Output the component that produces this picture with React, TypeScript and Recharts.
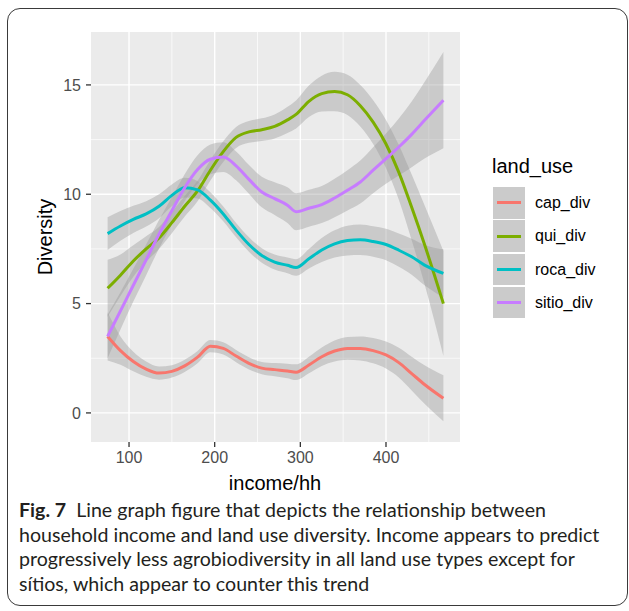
import React from 'react';
import {
  ComposedChart,
  Line,
  Area,
  XAxis,
  YAxis,
  CartesianGrid,
} from 'recharts';

// income/hh sample points
const INCOME = [75, 90, 105, 120, 135, 150, 165, 180, 195, 210, 225, 240, 255, 270, 285, 295, 310, 325, 340, 355, 370, 385, 400, 415, 430, 445, 467];

const CAP = [3.5, 2.85, 2.35, 2.0, 1.82, 1.9, 2.15, 2.55, 3.05, 2.95, 2.6, 2.27, 2.05, 1.98, 1.92, 1.86, 2.19, 2.57, 2.83, 2.95, 2.95, 2.85, 2.65, 2.3, 1.8, 1.3, 0.67];
const CAP_SE = [1.1, 0.65, 0.45, 0.35, 0.3, 0.28, 0.28, 0.28, 0.28, 0.28, 0.28, 0.28, 0.28, 0.3, 0.33, 0.36, 0.38, 0.42, 0.48, 0.52, 0.55, 0.58, 0.62, 0.68, 0.77, 0.88, 1.05];

const QUI = [5.7, 6.3, 6.95, 7.5, 8.0, 8.7, 9.45, 10.15, 11.1, 11.95, 12.6, 12.85, 12.95, 13.1, 13.4, 13.65, 14.25, 14.6, 14.7, 14.55, 14.05, 13.3, 12.3, 11.0, 9.4, 7.7, 5.0];
const QUI_SE = [1.3, 0.95, 0.72, 0.58, 0.5, 0.48, 0.47, 0.47, 0.47, 0.47, 0.48, 0.5, 0.52, 0.55, 0.6, 0.64, 0.72, 0.82, 0.9, 0.92, 0.95, 1.0, 1.1, 1.25, 1.5, 1.8, 2.4];

const ROCA = [8.2, 8.55, 8.85, 9.1, 9.45, 9.95, 10.3, 10.2, 9.73, 9.1, 8.36, 7.7, 7.2, 6.9, 6.75, 6.65, 7.05, 7.45, 7.73, 7.88, 7.92, 7.84, 7.7, 7.44, 7.14, 6.76, 6.38];
const ROCA_SE = [0.75, 0.68, 0.62, 0.58, 0.55, 0.5, 0.45, 0.4, 0.36, 0.34, 0.33, 0.33, 0.33, 0.34, 0.36, 0.38, 0.45, 0.55, 0.62, 0.68, 0.7, 0.7, 0.72, 0.76, 0.82, 0.92, 1.1];

const SITIO = [3.5, 4.67, 5.84, 7.0, 8.17, 9.25, 10.3, 11.13, 11.6, 11.7, 11.3, 10.68, 10.1, 9.8, 9.5, 9.2, 9.36, 9.53, 9.83, 10.18, 10.56, 11.1, 11.63, 12.16, 12.74, 13.38, 14.3];
const SITIO_SE = [1.0, 0.85, 0.75, 0.7, 0.65, 0.62, 0.62, 0.65, 0.68, 0.68, 0.66, 0.66, 0.7, 0.75, 0.82, 0.85, 0.85, 0.85, 0.88, 0.92, 0.98, 1.05, 1.15, 1.3, 1.5, 1.75, 2.2];

const X_TICKS = [100, 200, 300, 400];
const X_MINOR = [150, 250, 350, 450];
const Y_TICKS = [0, 5, 10, 15];
const Y_MINOR = [2.5, 7.5, 12.5];

const SERIES = [
  { key: 'cap_div', values: CAP, se: CAP_SE, color: '#F8766D' },
  { key: 'qui_div', values: QUI, se: QUI_SE, color: '#7CAE00' },
  { key: 'roca_div', values: ROCA, se: ROCA_SE, color: '#00BFC4' },
  { key: 'sitio_div', values: SITIO, se: SITIO_SE, color: '#C77CFF' },
];

const data = INCOME.map((x, i) => {
  const row: Record<string, number | number[]> = { income: x };
  SERIES.forEach((s) => {
    row[s.key] = s.values[i];
    row[s.key + '_band'] = [s.values[i] - s.se[i], s.values[i] + s.se[i]];
  });
  return row;
});

const CAPTION = [
  'Line graph figure that depicts the relationship between',
  'household income and land use diversity. Income appears to predict',
  'progressively less agrobiodiversity in all land use types except for',
  's\u00edtios, which appear to counter this trend',
];

const AXIS_FONT = '"Liberation Sans", Arial, sans-serif';

export default function App() {
  return (
    <div
      style={{
        position: 'absolute',
        left: 0,
        top: 0,
        width: 629,
        height: 611,
        background: '#fff',
        overflow: 'hidden',
        fontFamily: AXIS_FONT,
      }}
    >
      <div
        style={{
          position: 'absolute',
          left: 7,
          top: 8,
          width: 621,
          height: 598,
          boxSizing: 'border-box',
          border: '1.4px solid #3a3a3a',
          borderRadius: 13,
        }}
      />
      <div style={{ position: 'absolute', left: 0, top: 0 }}>
        <ComposedChart
          width={629}
          height={480}
          data={data}
          margin={{ top: 32, right: 169, bottom: 8, left: 41 }}
        >
          <CartesianGrid
            fill="#EBEBEB"
            stroke="#FFFFFF"
            strokeWidth={0.7}
            verticalValues={X_MINOR}
            horizontalValues={Y_MINOR}
          />
          <CartesianGrid
            stroke="#FFFFFF"
            strokeWidth={1.4}
            verticalValues={X_TICKS}
            horizontalValues={Y_TICKS}
          />
          <XAxis
            dataKey="income"
            type="number"
            domain={[55.6, 486.4]}
            ticks={X_TICKS}
            allowDataOverflow
            axisLine={false}
            tickSize={5}
            tickMargin={5}
            height={30}
            tick={{ fill: '#4D4D4D', fontSize: 16, fontFamily: AXIS_FONT }}
            tickLine={{ stroke: '#333333', strokeWidth: 1.3 }}
          />
          <YAxis
            type="number"
            domain={[-1.33, 17.42]}
            ticks={Y_TICKS}
            allowDataOverflow
            axisLine={false}
            tickSize={5}
            tickMargin={5}
            width={50}
            tick={{ fill: '#4D4D4D', fontSize: 16, fontFamily: AXIS_FONT }}
            tickLine={{ stroke: '#333333', strokeWidth: 1.3 }}
          />
          {/* ribbon then line, group by group, like geom_smooth */}
          {SERIES.flatMap((s) => [
            <Area
              key={s.key + '_band'}
              dataKey={s.key + '_band'}
              type="monotone"
              stroke="none"
              fill="#999999"
              fillOpacity={0.4}
              isAnimationActive={false}
              activeDot={false}
            />,
            <Line
              key={s.key}
              dataKey={s.key}
              type="monotone"
              stroke={s.color}
              strokeWidth={3}
              dot={false}
              activeDot={false}
              isAnimationActive={false}
            />,
          ])}
        </ComposedChart>
      </div>

      {/* axis titles */}
      <div
        style={{
          position: 'absolute',
          left: 175,
          width: 200,
          top: 473,
          textAlign: 'center',
          fontSize: 20,
          lineHeight: '20px',
          color: '#000',
        }}
      >
        income/hh
      </div>
      <div
        style={{
          position: 'absolute',
          left: 45 - 100,
          top: 237 - 10,
          width: 200,
          textAlign: 'center',
          fontSize: 20,
          lineHeight: '20px',
          color: '#000',
          transform: 'rotate(-90deg)',
        }}
      >
        Diversity
      </div>

      {/* legend */}
      <div
        style={{
          position: 'absolute',
          left: 492,
          top: 156,
          fontSize: 20,
          lineHeight: '20px',
          color: '#000',
        }}
      >
        land_use
      </div>
      {SERIES.map((s, i) => (
        <div key={s.key}>
          <div
            style={{
              position: 'absolute',
              left: 493,
              top: 187 + i * 33.3,
              width: 32,
              height: 31.5,
              background: '#CBCBCB',
            }}
          >
            <div
              style={{
                position: 'absolute',
                left: 4,
                top: 14.25,
                width: 24,
                height: 3,
                background: s.color,
              }}
            />
          </div>
          <div
            style={{
              position: 'absolute',
              left: 535,
              top: 187 + i * 33.3 + 6,
              fontSize: 16,
              lineHeight: '20px',
              color: '#000',
            }}
          >
            {s.key}
          </div>
        </div>
      ))}

      {/* caption */}
      <div
        style={{
          position: 'absolute',
          left: 19,
          top: 498,
          fontFamily: 'Lato, "Open Sans", sans-serif',
          fontSize: 19.6,
          lineHeight: '24.5px',
          color: '#231F20',
          whiteSpace: 'nowrap',
        }}
      >
        {CAPTION.map((line, i) => (
          <div key={i}>
            {i === 0 && (
              <span style={{ fontWeight: 700, marginRight: 10 }}>Fig. 7</span>
            )}
            {line}
          </div>
        ))}
      </div>
    </div>
  );
}
